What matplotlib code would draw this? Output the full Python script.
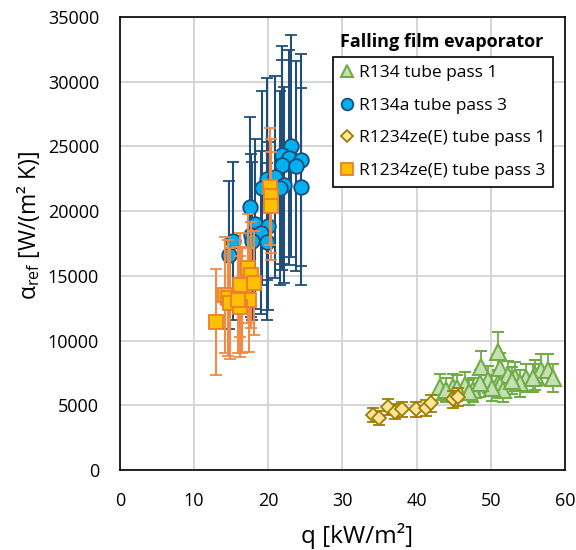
import numpy as np
import matplotlib
matplotlib.use("Agg")
import matplotlib.pyplot as plt

plt.rcParams['font.family'] = ['Open Sans', 'DejaVu Sans']
plt.rcParams['mathtext.fontset'] = 'custom'
plt.rcParams['mathtext.rm'] = 'Open Sans'
plt.rcParams['mathtext.it'] = 'Open Sans:italic'

# R134 tube pass 1
q_r134_p1 = [51.0, 48.7, 44.9, 46.5, 43.1, 44.0, 47.6, 49.6, 51.0, 51.2, 52.3, 53.2, 54.8,
             55.9, 56.8, 57.7, 58.4, 51.2, 51.7, 50.1, 48.5, 53.9, 55.7, 45.5, 47.0, 52.8]
a_r134_p1 = [9140, 7980, 6440, 6570, 6440, 6180, 6180, 6960, 6700, 7860, 7340, 7210, 7090,
             7340, 7730, 7730, 7090, 6570, 6180, 6310, 6700, 6700, 7110, 6300, 6000, 6900]
e_r134_p1 = [1500, 1250, 1000, 1000, 1000, 950, 950, 1050, 1050, 1200, 1100, 1100, 1100,
             1150, 1200, 1200, 1100, 1000, 950, 1000, 1050, 1050, 1100, 1000, 950, 1050]

# R134a tube pass 3
q_r134a_p3 = [23.0, 21.9, 22.8, 24.4, 21.9, 23.7, 19.8, 20.9, 19.2, 22.1, 24.4, 21.6, 17.5,
              18.2, 20.0, 17.7, 19.0, 19.8, 17.8, 15.3, 14.7]
a_r134a_p3 = [25040, 24340, 24140, 23960, 23570, 23490, 22470, 22620, 21770, 22020, 21900,
              21770, 20300, 19010, 18860, 18140, 18340, 17650, 17720, 17670, 16590]
e_r134a_p3 = [8600, 8400, 8300, 8200, 8100, 8100, 7800, 7800, 7500, 7600, 7600, 7500, 7000,
              6600, 6500, 6300, 6300, 6100, 6100, 6100, 5700]

# R1234ze(E) tube pass 1
q_ze_p1 = [34.1, 34.9, 36.2, 37.1, 38.0, 39.9, 41.3, 42.0, 44.9, 45.6]
a_ze_p1 = [4250, 4000, 4890, 4510, 4690, 4690, 4770, 5150, 5460, 5620]
e_ze_p1 = [550, 520, 620, 580, 600, 600, 600, 650, 680, 700]

# R1234ze(E) tube pass 3
q_ze_p3 = [20.2, 20.4, 20.3, 17.3, 17.6, 18.1, 16.2, 14.2, 14.6, 14.8, 16.4, 17.4, 16.2,
           12.9, 15.9]
a_ze_p3 = [21900, 21170, 20400, 15590, 15070, 14430, 14300, 13520, 13270, 12880, 13140,
           13140, 12620, 11460, 13140]
e_ze_p3 = [4500, 4400, 4200, 4200, 4100, 4000, 4000, 4500, 4500, 4300, 4100, 4000, 3900,
           4100, 4100]

fig = plt.figure(figsize=(5.76, 5.5), dpi=100)
ax = fig.add_axes([0.2083, 0.1455, 0.7726, 0.8236])

ax.errorbar(q_r134_p1, a_r134_p1, yerr=e_r134_p1, fmt='^', ms=11,
            mfc='#c5e0b4', mec='#70ad47', mew=1.5, ecolor='#70ad47', elinewidth=1.3,
            capsize=4, capthick=1.3, label='R134 tube pass 1', zorder=3)
ax.errorbar(q_r134a_p3, a_r134a_p3, yerr=e_r134a_p3, fmt='o', ms=10.5,
            mfc='#00b0f0', mec='#1f4e79', mew=1.3, ecolor='#1f4e79', elinewidth=1.5,
            capsize=4, capthick=1.3, label='R134a tube pass 3', zorder=4)
ax.errorbar(q_ze_p1, a_ze_p1, yerr=e_ze_p1, fmt='D', ms=7.5,
            mfc='#ffe699', mec='#a07c00', mew=1.3, ecolor='#a07c00', elinewidth=1.3,
            capsize=4, capthick=1.3, label='R1234ze(E) tube pass 1', zorder=5)
ax.errorbar(q_ze_p3, a_ze_p3, yerr=e_ze_p3, fmt='s', ms=10,
            mfc='#ffc000', mec='#ed7d31', mew=1.3, ecolor='#f08a45', elinewidth=1.5,
            capsize=4, capthick=1.3, label='R1234ze(E) tube pass 3', zorder=6)

ax.set_xlim(0, 60)
ax.set_ylim(0, 35000)
ax.set_xticks(np.arange(0, 61, 10))
ax.set_yticks(np.arange(0, 35001, 5000))
ax.tick_params(length=0, labelsize=13)
ax.tick_params(axis='y', pad=15)
ax.tick_params(axis='x', pad=16)
ax.grid(True, color='#d0d0d0', linewidth=1.2)
ax.set_axisbelow(True)
for s in ax.spines.values():
    s.set_color('black')
    s.set_linewidth(1.2)

ax.set_xlabel('q [kW/m²]', fontsize=17.5)
ax.set_ylabel(r'α$_{\rm ref}$ [W/(m² K)]', fontsize=16.5)
ax.xaxis.set_label_coords(0.533, -0.117)
ax.yaxis.set_label_coords(-0.175, 0.54)

ax.text(0.724, 0.945, 'Falling film evaporator', transform=ax.transAxes,
        ha='center', va='center', fontsize=13, fontweight='bold', zorder=10)

h, l = ax.get_legend_handles_labels()
h = [hh[0] for hh in h]
leg = ax.legend(h, l, loc='upper left', bbox_to_anchor=(0.4787, 0.9117),
                fontsize=12.5, frameon=True, fancybox=False, edgecolor='black',
                framealpha=1, handlelength=0.7, handletextpad=0.35, labelspacing=0.95,
                borderpad=0.45, borderaxespad=0, markerscale=0.8)
leg.get_frame().set_linewidth(1.2)
leg.set_zorder(10)

plt.savefig('out.png', dpi=100)
